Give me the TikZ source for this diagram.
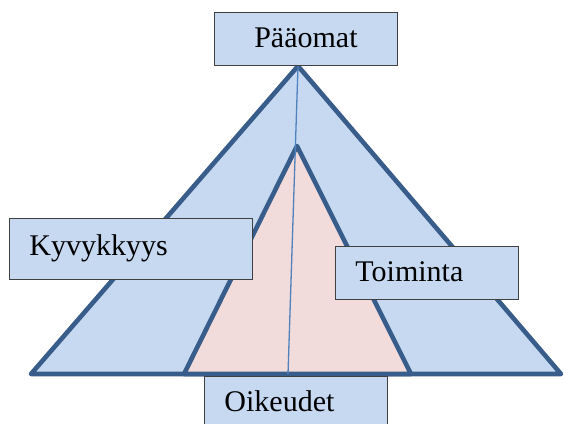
\documentclass[tikz,border=0pt]{standalone}
\usepackage{fontspec}
\setmainfont{Liberation Serif}
\usepackage{tikz}
\definecolor{kolmio}{HTML}{C6D9F1}
\definecolor{reuna}{HTML}{385D8A}
\definecolor{sisa}{HTML}{F2DCDB}
\definecolor{viiva}{HTML}{4F81BD}

\begin{document}
\begin{tikzpicture}[x=1pt, y=-1pt,
        tahko/.style={draw=reuna, line width=4.6pt, line join=round},
        lbl/.style={draw=black!75, line width=0.9pt, fill=kolmio,
            font=\fontsize{30}{34}\selectfont, inner ysep=0pt, inner xsep=20pt,
            text height=22pt, text depth=5pt, align=left, anchor=north west}]
    \useasboundingbox (0,0) rectangle (564,423);
    % outer and inner triangle
    \coordinate (huippu) at (298,66);
    \coordinate (ala) at (288,374);
    \draw[tahko, fill=kolmio] (huippu) -- (561,374) -- (31,374) -- cycle;
    \draw[tahko, fill=sisa] (297,146) -- (411,374) -- (184,374) -- cycle;
    \draw[viiva, line width=1.3pt] (huippu) -- (ala);
    % labels
    \node[lbl, align=center, text width=143pt, minimum height=53pt] (paaomat) at (214,12) {Pääomat};
    \node[lbl, text width=203pt, minimum height=61pt, text depth=8pt] (kyky) at (9,218) {Kyvykkyys};
    \node[lbl, text width=143pt, minimum height=53pt] (toiminta) at (335,246) {Toiminta};
    \node[lbl, text width=143pt, minimum height=53pt] (oikeudet) at (204,376) {Oikeudet};
\end{tikzpicture}
\end{document}
